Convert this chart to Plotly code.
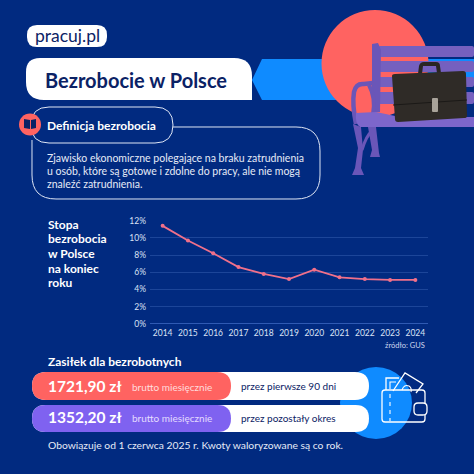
import plotly.graph_objects as go

years = ["2014", "2015", "2016", "2017", "2018", "2019", "2020", "2021", "2022", "2023", "2024"]
rate = [11.4, 9.7, 8.2, 6.6, 5.8, 5.2, 6.3, 5.4, 5.2, 5.1, 5.1]
y_ticks = [0, 2, 4, 6, 8, 10, 12]
y_labels = ["0%", "2%", "4%", "6%", "8%", "10%", "12%"]

S = 474
BG = "#012a80"
NAVY = "#0b2265"
CORAL = "#ff6361"
PURPLE = "#7f62f0"
BENCH = "#7560bf"
BENCH_DARK = "#6a56b8"
BLUE = "#0f8bff"
FONT = "Lato"


def X(v):
    return v / S


def Y(v):
    return 1 - v / S


def path(d, fill=None, line=None, width=1, layer="below"):
    # d is written in pixels from the top left corner, converted to paper here
    out = []
    toks = d.split()
    i = 0
    while i < len(toks):
        if toks[i].isalpha():
            out.append(toks[i])
            i += 1
        else:
            out.append(f"{X(float(toks[i])):.5f},{Y(float(toks[i + 1])):.5f}")
            i += 2
    return dict(type="path", xref="paper", yref="paper", path=" ".join(out), layer=layer,
                fillcolor=fill or "rgba(0,0,0,0)",
                line=dict(color=line or "rgba(0,0,0,0)", width=width if line else 0))


def rrect(x0, y0, x1, y1, r, fill=None, line=None, width=1, layer="below"):
    d = (f"M {x0 + r} {y0} L {x1 - r} {y0} Q {x1} {y0} {x1} {y0 + r} L {x1} {y1 - r} "
         f"Q {x1} {y1} {x1 - r} {y1} L {x0 + r} {y1} Q {x0} {y1} {x0} {y1 - r} "
         f"L {x0} {y0 + r} Q {x0} {y0} {x0 + r} {y0} Z")
    return path(d, fill, line, width, layer)


def circle(cx, cy, r, fill, layer="below"):
    return dict(type="circle", xref="paper", yref="paper", layer=layer, fillcolor=fill,
                x0=X(cx - r), x1=X(cx + r), y0=Y(cy + r), y1=Y(cy - r), line=dict(width=0))


def label(x, y, text, size, color="white", bold=False, anchor="left"):
    return dict(xref="paper", yref="paper", x=X(x), y=Y(y), text=f"<b>{text}</b>" if bold else text,
                showarrow=False, xanchor=anchor, yanchor="middle", align=anchor,
                font=dict(family=FONT, size=size, color=color))


shapes = [
    # header: arrow, circle, logo and title
    path("M 252 80 L 262 59 L 474 59 L 474 80 L 345 80 L 345 100 L 262 100 Z", BLUE),
    circle(375, 63.5, 53.5, CORAL),
    rrect(27, 25, 107, 47, 10, "white"),
    path("M 40 58 L 234 58 Q 252 58 252 76 L 252 100 L 44 100 Q 26 100 26 82 L 26 72 Q 26 58 40 58 Z", "white"),
    # bench back
    rrect(378, 46, 474, 57, 2, BENCH),
    rrect(378, 61, 474, 72, 2, BENCH),
    rrect(378, 77, 474, 87, 2, BENCH),
    rrect(378, 92, 474, 104, 2, BENCH),
    path("M 372 44 L 378 43 L 381 50 L 380 112 L 372 112 Z", BENCH_DARK),
    # bench arm, seat and legs
    path("M 356 124 Q 352 104 354 92 Q 356 83 364 84 L 373 83", None, BENCH_DARK, 4.5),
    path("M 369 85 Q 376 98 373 114", None, BENCH_DARK, 4),
    path("M 356 113 L 376 112 L 400 117 L 474 117 L 474 127 L 360 127 Q 355 124 356 113 Z", "#7d66cb"),
    path("M 353 124 L 361 127 L 363 150 L 361 168 L 364 175 L 352 175 L 355 168 L 358 148 Z", BENCH_DARK),
    path("M 362 150 Q 366 136 372 131", None, BENCH_DARK, 3),
    path("M 368 127 L 376 127 L 379 153 L 380 157 L 370 157 L 372 150 Z", BENCH_DARK),
    # briefcase
    path("M 418 74 L 419 66 Q 420 62 424 62 L 436 62 Q 440 62 440 66 L 441 73 L 437 73 L 436 66 L 423 66 L 422 74 Z", "#2a2622"),
    path("M 392 76 Q 392 74 395 74 L 463 71 Q 466 71 466 74 L 467 116 Q 467 118 464 118 L 398 122 Q 395 122 395 119 Z", "#2f2b27"),
    path("M 393 105 L 467 100", None, "#1b1917", 1),
    rrect(432, 98, 438, 112, 1, "#a9a39a"),
    # definition box
    path("M 173 127 L 296 127 Q 320 127 320 151 L 320 175 Q 320 199 296 199 L 56 199 Q 32 199 32 175 L 32 140",
         None, "#dfe6f5", 1),
    rrect(31, 107, 173, 143, 18, BG, "#dfe6f5", 1),
    circle(30, 124.5, 11, CORAL),
    path("M 24 119 L 30 120 L 30 129 L 24 128 Z", NAVY),
    path("M 36 119 L 31 120 L 31 129 L 36 128 Z", NAVY),
    # benefit rows
    circle(376, 403, 36, BLUE),
    rrect(32, 372, 369, 400, 14, "white"),
    rrect(32, 405, 369, 432, 13.5, "white"),
    rrect(32, 372, 231, 400, 14, CORAL),
    rrect(32, 405, 231, 432, 13.5, PURPLE),
    # wallet
    path("M 386 390 L 386 378 L 399 378 M 393 391 L 405 373 L 423 384 L 416 393", None, "white", 1.3),
    path("M 390 389 L 390 382 L 396 382 M 402 390 Q 404 384 409 386 Q 412 388 411 392", None, "white", 1.1),
    rrect(382, 390, 425, 422, 3, None, "white", 1.3),
    path("M 390 394 L 390 398 M 390 402 L 390 406 M 390 410 L 390 414 M 390 418 L 390 421", None, "white", 1.1),
    rrect(414, 403, 427, 415, 4, BG, "white", 1.3),
]

texts = [
    label(67, 36, "pracuj.pl", 17.5, NAVY, anchor="center"),
    label(43, 80, "Bezrobocie w Polsce", 20, NAVY, True),
    label(45, 125, "Definicja bezrobocia", 12, "white", True),
    label(45, 158, "Zjawisko ekonomiczne polegające na braku zatrudnienia", 10.5, "#e6ebf7"),
    label(45, 171, "u osób, które są gotowe i zdolne do pracy, ale nie mogą", 10.5, "#e6ebf7"),
    label(45, 184, "znaleźć zatrudnienia.", 10.5, "#e6ebf7"),
    label(46, 224, "Stopa", 12, "white", True),
    label(46, 239, "bezrobocia", 12, "white", True),
    label(46, 253, "w Polsce", 12, "white", True),
    label(46, 268, "na koniec", 12, "white", True),
    label(46, 282, "roku", 12, "white", True),
    label(427, 345, "źródło: GUS", 7.5, "#cfd8ee", anchor="right"),
    label(46, 361, "Zasiłek dla bezrobotnych", 12, "white", True),
    label(46, 386, "1721,90 zł", 15.5, "white", True),
    label(46, 417, "1352,20 zł", 15.5, "white", True),
    label(130, 387, "brutto miesięcznie", 10, "#ffdcdc"),
    label(130, 418, "brutto miesięcznie", 10, "#e4dcff"),
    label(239, 386, "przez pierwsze 90 dni", 10, NAVY),
    label(239, 418, "przez pozostały okres", 10, NAVY),
    label(46, 445, "Obowiązuje od 1 czerwca 2025 r. Kwoty waloryzowane są co rok.", 10.3, "#e6ebf7"),
]

fig = go.Figure(go.Scatter(
    x=years, y=rate, mode="lines+markers",
    line=dict(color="#f0708a", width=1.8),
    marker=dict(color="#f0708a", size=4),
    hoverinfo="skip",
))

fig.update_layout(
    width=S, height=S,
    margin=dict(l=0, r=0, t=0, b=0),
    paper_bgcolor=BG, plot_bgcolor=BG,
    showlegend=False,
    shapes=shapes,
    annotations=texts,
    font=dict(family=FONT, color="#dbe3f5", size=8.5),
)
# automargin off, otherwise the paper coordinates get squeezed
fig.update_xaxes(
    type="category", domain=[X(150), X(428)], range=[-0.5, 10.5], automargin=False,
    showgrid=False, zeroline=False, ticks="", ticklabelstandoff=3,
    showline=False, tickfont=dict(size=8.5, color="#dbe3f5"),
)
fig.update_yaxes(
    domain=[Y(323.7), Y(220.7)], range=[0, 12], automargin=False,
    tickvals=y_ticks, ticktext=y_labels, ticklabelstandoff=3,
    gridcolor="#1c4599", gridwidth=1, zeroline=True, zerolinecolor="#2f5ab3", zerolinewidth=1, ticks="",
    tickfont=dict(size=8.5, color="#dbe3f5"),
)

# page margin would push the 474px figure off the window
fig.write_html("out.html", config={"displayModeBar": False},
               post_script="document.body.style.margin='0';document.body.style.overflow='hidden';")
